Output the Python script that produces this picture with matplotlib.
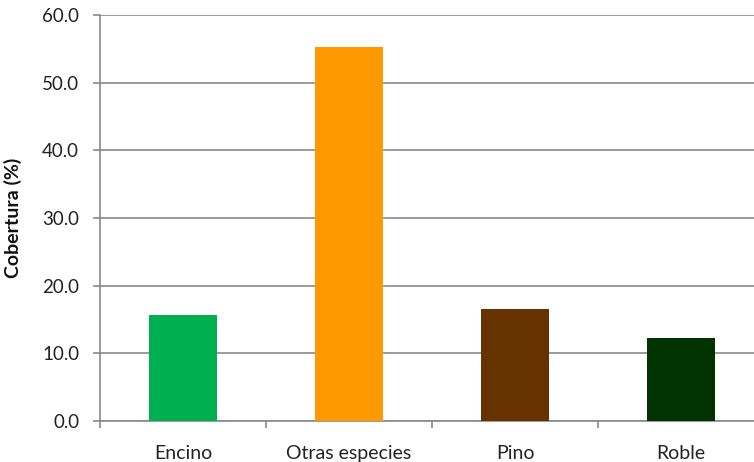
import matplotlib
matplotlib.use("Agg")
import matplotlib.pyplot as plt
import numpy as np

categories = ["Encino", "Otras especies", "Pino", "Roble"]
cobertura = [15.6, 55.2, 16.6, 12.2]
bar_colors = ["#00B050", "#FF9900", "#663300", "#003300"]
y_ticks = [0, 10, 20, 30, 40, 50, 60]

plt.rcParams["font.family"] = ["Lato", "DejaVu Sans"]

W, H = 754, 462
fig = plt.figure(figsize=(W / 100, H / 100), dpi=100)
ax = fig.add_axes([100 / W, 41 / H, 664 / W, 406 / H])

grid_c = "#898989"
x = np.arange(len(categories))
ax.bar(x, cobertura, width=0.41, color=bar_colors, zorder=3)

ax.set_xlim(-0.5, len(categories) - 0.5)
ax.set_ylim(0, 60)
ax.set_yticks(y_ticks)
ax.set_yticklabels([f"{v:.1f}" for v in y_ticks], fontsize=13.5, color="#222222")
ax.yaxis.grid(True, color=grid_c, linewidth=1.2, zorder=0)
ax.set_axisbelow(True)

# category boundary ticks below, labels at centres
ax.set_xticks(np.arange(-0.5, len(categories), 1.0))
ax.set_xticklabels([])
ax.set_xticks(x, minor=True)
ax.set_xticklabels(categories, minor=True, fontsize=14, color="#222222")
ax.tick_params(axis="x", which="major", length=5, color=grid_c, width=1.2)
ax.tick_params(axis="x", which="minor", length=0, pad=17)
ax.tick_params(axis="y", length=5, color=grid_c, width=1.2, pad=10)

for s in ["top", "right"]:
    ax.spines[s].set_visible(False)
ax.spines["left"].set_color(grid_c)
ax.spines["left"].set_linewidth(1.2)
ax.spines["bottom"].set_color(grid_c)
ax.spines["bottom"].set_linewidth(1.2)

ax.set_ylabel("Cobertura (%)", fontsize=14, fontweight="bold", color="#111111")
ax.yaxis.set_label_coords(-0.118, 0.5)

fig.savefig("out.png", dpi=100, facecolor="white")
